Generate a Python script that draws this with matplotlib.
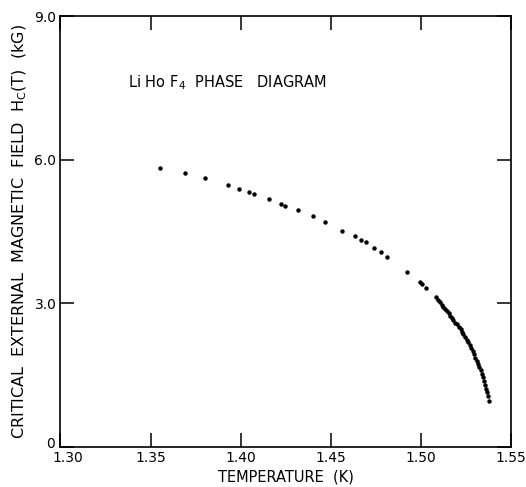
import matplotlib
matplotlib.use("Agg")
from matplotlib import pyplot as plt
from matplotlib import transforms

# temperature (K) and critical field (kG)
temperature = [
    1.3554, 1.3693, 1.3804, 1.3930, 1.3989, 1.4046, 1.4072, 1.4155, 1.4224,
    1.4248, 1.4318, 1.4403, 1.4468, 1.4564, 1.4633, 1.4669, 1.4697, 1.4741,
    1.4780, 1.4810, 1.4925, 1.4993, 1.5004, 1.5030,
    1.5085, 1.5095, 1.5105, 1.5115, 1.5125, 1.5135, 1.5145, 1.5155, 1.5163,
    1.5172, 1.5180, 1.5190, 1.5200, 1.5210, 1.5220, 1.5228, 1.5236, 1.5245,
    1.5255, 1.5263, 1.5272, 1.5280, 1.5288, 1.5295, 1.5302, 1.5310, 1.5318,
    1.5325, 1.5332, 1.5338, 1.5345, 1.5352, 1.5358, 1.5362, 1.5366, 1.5372,
    1.5378,
]
field = [
    5.82, 5.73, 5.62, 5.48, 5.38, 5.33, 5.28, 5.17, 5.08,
    5.04, 4.95, 4.82, 4.70, 4.52, 4.41, 4.33, 4.28, 4.16,
    4.08, 3.96, 3.65, 3.44, 3.41, 3.33,
    3.13, 3.08, 3.03, 2.97, 2.92, 2.88, 2.84, 2.79, 2.74,
    2.70, 2.66, 2.60, 2.56, 2.51, 2.46, 2.41, 2.36, 2.30,
    2.24, 2.19, 2.13, 2.07, 2.01, 1.94, 1.87, 1.80, 1.74,
    1.68, 1.60, 1.53, 1.46, 1.38, 1.30, 1.22, 1.14, 1.06,
    0.97,
]

x_ticks = [1.30, 1.35, 1.40, 1.45, 1.50, 1.55]
x_labels = ["1.30", "1.35", "1.40", "1.45", "1.50", "1.55"]
y_ticks = [0, 3.0, 6.0, 9.0]
y_labels = ["0", "3.0", "6.0", "9.0"]

plt.rcParams["font.family"] = ["DejaVu Sans"]

fig = plt.figure(figsize=(5.26, 4.87), dpi=100)
ax = fig.add_axes([0.115, 0.082, 0.8565, 0.885])

ax.plot(temperature, field, "o", color="black", markersize=3.2, markeredgewidth=0)

ax.set_xlim(1.30, 1.55)
ax.set_ylim(0, 9.0)
ax.set_xticks(x_ticks)
ax.set_xticklabels(x_labels)
ax.set_yticks(y_ticks)
ax.set_yticklabels(y_labels)
ax.tick_params(direction="in", length=10, width=1.1, top=True, right=True,
               labelsize=10, pad=3, colors="black")
for spine in ax.spines.values():
    spine.set_linewidth(1.2)

# nudge the corner labels apart, as in the original
ax.get_xticklabels()[0].set_transform(
    ax.get_xticklabels()[0].get_transform()
    + transforms.ScaledTranslation(5 / 72, 0, fig.dpi_scale_trans))
ax.get_yticklabels()[0].set_transform(
    ax.get_yticklabels()[0].get_transform()
    + transforms.ScaledTranslation(-1 / 72, 3 / 72, fig.dpi_scale_trans))

ax.set_xlabel("TEMPERATURE  (K)", fontsize=10.5, labelpad=3)
ax.set_ylabel("CRITICAL  EXTERNAL  MAGNETIC  FIELD  H$_\\mathregular{C}$(T)  (kG)",
              fontsize=11.5, labelpad=4)

ax.text(1.3375, 7.6, "Li Ho F$_\\mathregular{4}$  PHASE   DIAGRAM", fontsize=10.5,
        va="center", ha="left")

fig.savefig("out.png", dpi=100)
